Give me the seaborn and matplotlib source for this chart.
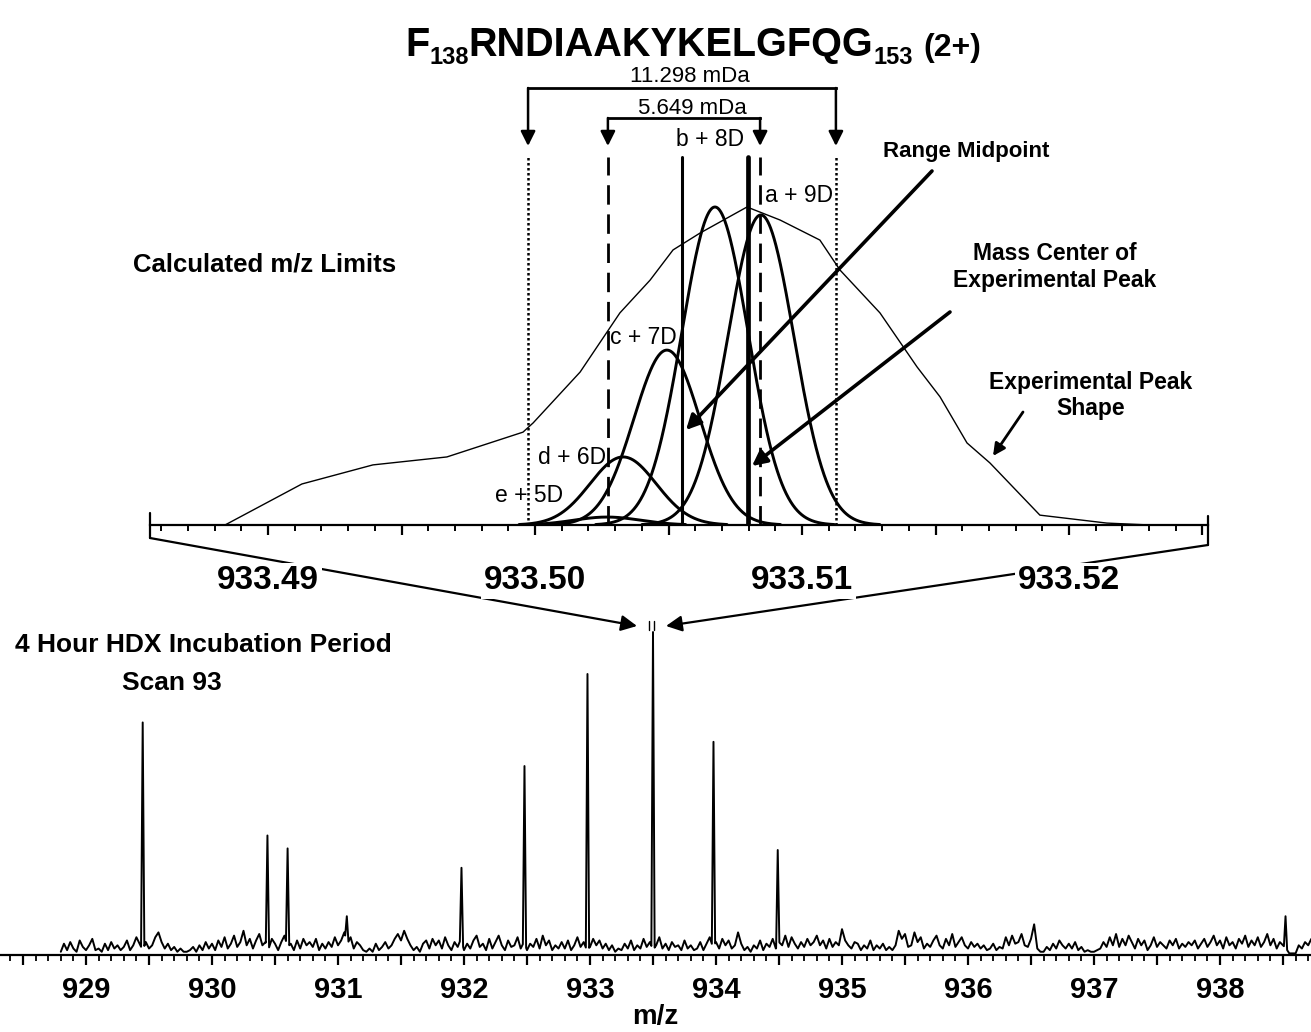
import numpy as np
import pandas as pd
import matplotlib
matplotlib.use("Agg")
import matplotlib.pyplot as plt
import seaborn as sns
from matplotlib.ticker import MultipleLocator, FuncFormatter

# ---------------- data ----------------
# top panel: experimental peak shape (m/z, relative intensity)
exp_mz = [933.48839, 933.49127, 933.49393, 933.49670, 933.49955, 933.49993, 933.50169,
          933.50318, 933.50431, 933.50517, 933.50618, 933.50794, 933.50918, 933.51067,
          933.51142, 933.51292, 933.51431, 933.51517, 933.51618, 933.51704, 933.51891,
          933.52142, 933.52303]
exp_int = [0, 12.9, 18.9, 21.4, 29.2, 32.1, 48.1, 66.7, 77.0, 86.5, 91.8, 100.0, 95.9,
           89.6, 80.2, 66.7, 49.7, 40.3, 25.8, 19.5, 3.1, 0.6, 0]

# top panel: theoretical isotopic species
iso_labels = ["a + 9D", "b + 8D", "c + 7D", "d + 6D", "e + 5D"]
iso_mz = [933.50846, 933.50674, 933.50494, 933.50330, 933.50270]
iso_int = [97.5, 100.0, 55.0, 21.4, 2.5]
iso_width = [0.00124, 0.00124, 0.00124, 0.00124, 0.00124]

# calculated m/z limits, range midpoint, mass centre
calc_outer = [933.49974, 933.51127]
calc_inner = [933.50273, 933.50843]
mass_center = 933.50798
diff_labels = ["11.298 mDa", "5.649 mDa"]
top_ticks = [933.49, 933.50, 933.51, 933.52]

# bottom panel: full scan (scan 93)
peak_mz = [929.45, 930.44, 930.60, 931.07, 931.98, 932.48, 932.98, 933.50, 933.98, 934.49, 938.52]
peak_int = [72.0, 37.0, 33.0, 12.0, 27.0, 58.5, 87.0, 100.0, 66.0, 32.5, 12.0]
noise_start, noise_step = 928.80, 0.025
noise_int = [
    1.0, 3.5, 1.5, 4.0, 2.0, 1.0, 4.5, 2.5, 1.5, 3.0, 5.0, 1.5, 2.0, 1.0, 3.5, 1.5, 4.0, 2.0, 3.0, 1.5,
    2.5, 4.5, 1.5, 3.0, 5.5, 3.5, 1.5, 4.0, 2.0, 3.0, 5.5, 7.0, 4.0, 2.0, 3.5, 1.5, 2.5, 1.0, 2.0, 1.0,
    1.0, 1.5, 2.5, 1.0, 3.0, 1.5, 4.0, 2.0, 3.5, 1.5, 4.5, 2.5, 5.5, 2.0, 3.5, 6.0, 2.5, 4.0, 7.5, 3.0,
    5.0, 2.0, 4.5, 6.5, 3.0, 4.0, 2.0, 5.0, 3.5, 1.5, 4.0, 6.0, 2.5, 3.5, 1.5, 4.5, 2.0, 5.0, 3.0, 4.0,
    2.5, 5.0, 1.5, 3.5, 2.0, 4.0, 2.5, 5.5, 3.0, 4.5, 7.0, 3.5, 5.5, 2.0, 4.0, 3.0, 1.5, 1.0, 2.0, 1.0,
    3.5, 1.5, 2.5, 4.0, 2.0, 3.0, 5.0, 6.5, 4.5, 7.5, 5.0, 3.0, 1.5, 2.5, 1.0, 3.5, 4.5, 2.0, 5.0, 3.0,
    4.5, 2.0, 5.5, 3.0, 1.5, 4.0, 2.5, 5.0, 1.5, 3.5, 2.0, 4.5, 6.0, 2.5, 3.5, 1.5, 5.0, 2.0, 4.0, 6.0,
    3.0, 1.5, 4.5, 2.5, 3.0, 5.5, 2.0, 4.0, 1.5, 3.5, 2.5, 5.0, 2.0, 6.0, 3.0, 4.5, 1.5, 3.0, 2.0, 4.0,
    2.0, 4.5, 1.5, 3.0, 5.5, 2.5, 4.0, 1.5, 2.5, 5.0, 3.0, 4.5, 2.0, 3.5, 1.5, 3.0, 1.0, 2.0, 1.5, 3.5,
    2.0, 4.5, 1.5, 3.0, 2.0, 5.0, 2.5, 4.0, 1.5, 3.0, 5.5, 2.0, 3.5, 1.5, 4.0, 2.5, 3.0, 1.5, 4.5, 2.0,
    3.0, 1.5, 2.0, 4.0, 1.5, 3.5, 5.5, 2.5, 4.0, 2.0, 5.0, 3.0, 4.5, 2.0, 3.0, 7.0, 3.5, 1.5, 2.5, 1.0,
    3.0, 2.0, 4.5, 1.5, 3.5, 2.5, 5.0, 2.0, 4.0, 3.0, 6.0, 2.5, 5.5, 3.5, 2.0, 4.0, 2.5, 5.0, 3.0, 4.0,
    6.0, 3.0, 4.5, 2.0, 5.0, 2.5, 4.0, 3.0, 8.0, 4.5, 3.0, 2.0, 4.0, 3.5, 1.5, 3.0, 2.0, 4.5, 1.5, 3.0,
    2.0, 3.5, 1.5, 2.5, 1.5, 3.0, 7.5, 5.0, 6.5, 2.5, 3.0, 7.0, 4.0, 5.5, 2.0, 3.5, 2.5, 4.5, 6.0, 3.0,
    2.0, 5.0, 3.0, 6.5, 2.5, 4.0, 5.5, 3.0, 2.0, 4.0, 2.5, 3.5, 2.0, 3.0, 1.5, 2.0, 3.5, 1.5, 2.5, 2.0,
    5.5, 3.0, 6.0, 3.5, 4.0, 6.5, 3.0, 2.5, 5.0, 9.5, 2.0, 1.0, 1.0, 2.5, 1.5, 3.5, 2.0, 4.5, 3.0, 2.0,
    3.5, 2.0, 4.0, 1.5, 2.5, 1.0, 1.5, 1.0, 1.0, 1.5, 2.0, 4.0, 2.5, 5.5, 3.0, 6.5, 2.5, 5.0, 3.0, 6.0,
    4.0, 2.0, 5.0, 3.0, 4.5, 1.5, 3.0, 5.5, 2.5, 4.0, 3.0, 2.0, 4.5, 3.0, 5.0, 2.0, 3.5, 2.5, 4.0, 3.0,
    4.5, 2.0, 3.5, 5.0, 2.5, 4.0, 6.0, 3.0, 4.5, 2.0, 5.5, 3.0, 4.0, 2.0, 5.0, 3.5, 6.0, 2.5, 4.5, 3.0,
    5.5, 2.5, 4.0, 6.5, 3.0, 5.0, 2.0, 4.0, 3.0, 2.0, 0.5, 0.5, 0.5, 3.0, 2.0, 4.0, 3.0, 5.0,
]
bottom_ticks = [929, 930, 931, 932, 933, 934, 935, 936, 937, 938]

# ---------------- style ----------------
sns.set_theme(style="white")
plt.rcParams["font.family"] = ["Liberation Sans", "DejaVu Sans"]
plt.rcParams["font.weight"] = "bold"
for k in ["text.color", "axes.edgecolor", "xtick.color", "axes.labelcolor"]:
    plt.rcParams[k] = "black"

W, H = 1311, 1032
fig = plt.figure(figsize=(W / 100, H / 100), dpi=100)
fig.patch.set_facecolor("white")

ov = fig.add_axes([0, 0, 1, 1], zorder=0)
ov.set_xlim(0, W)
ov.set_ylim(H, 0)
ov.axis("off")


def fax(l, t, r, b):
    return [l / W, 1 - b / H, (r - l) / W, (b - t) / H]


axT = fig.add_axes(fax(150, 60, 1208, 525), zorder=2)
axB = fig.add_axes(fax(0, 600, 1311, 955), zorder=2)
for a in (axT, axB):
    a.patch.set_alpha(0)
    for s in ["top", "right", "left"]:
        a.spines[s].set_visible(False)
    a.spines["bottom"].set_linewidth(1.6)
    a.spines["bottom"].set_color("black")
    a.set_yticks([])

TOPY = 3.18  # pixels per intensity unit (top panel)
BOTY = 3.23  # pixels per intensity unit (bottom panel)


def ypt(py):
    return (525 - py) / TOPY


axT.set_xlim(933.49 + (150 - 268) / 26700, 933.49 + (1208 - 268) / 26700)
axT.set_ylim(0, ypt(60))
axB.set_xlim(933.5 - 653 / 126, 933.5 + (W - 653) / 126)
axB.set_ylim(0, (955 - 600) / BOTY)

# ---- top panel ----
sns.lineplot(x=exp_mz, y=exp_int, ax=axT, color="black", lw=1.0,
             estimator=None, sort=False, legend=False)
grid = np.linspace(933.495, 933.520, 1500)
for c, h, s in zip(iso_mz, iso_int, iso_width):
    yv = h * np.exp(-0.5 * ((grid - c) / s) ** 2)
    m = yv > 0.15
    sns.lineplot(x=grid[m], y=yv[m], ax=axT, color="black", lw=2.1,
                 estimator=None, sort=False, legend=False)

frac = (525 - 157) / (525 - 60)
for xv in calc_outer:
    axT.axvline(xv, ymin=0, ymax=frac, color="black", lw=1.8, ls=(0, (1, 1)))
for xv in calc_inner:
    axT.axvline(xv, ymin=0, ymax=frac, color="black", lw=2.0, ls=(0, (7, 3.5)))
axT.axvline(np.mean(calc_outer), ymin=0, ymax=frac, color="black", lw=2.2)
axT.axvline(mass_center, ymin=0, ymax=frac, color="black", lw=3.4)

# brackets
aprops = dict(arrowstyle="-|>", color="black", lw=1.8, mutation_scale=22,
              shrinkA=0, shrinkB=0)
for lims, ybar in [(calc_outer, 88), (calc_inner, 118)]:
    axT.plot(lims, [ypt(ybar), ypt(ybar)], color="black", lw=2.0, solid_capstyle="projecting")
    for xv in lims:
        axT.annotate("", xy=(xv, ypt(146)), xytext=(xv, ypt(ybar)), arrowprops=aprops)

axT.text(np.mean(calc_outer) + 8 / 26700, ypt(77), diff_labels[0], ha="center", va="center",
         fontsize=16, fontweight="normal")
axT.text(np.mean(calc_inner) + 8 / 26700, ypt(108), diff_labels[1], ha="center", va="center",
         fontsize=16, fontweight="normal")

iso_text_pos = {"a + 9D": (765, 196, "left"), "b + 8D": (710, 140, "center"),
                "c + 7D": (610, 338, "left"), "d + 6D": (538, 457, "left"),
                "e + 5D": (495, 495, "left")}
for lab in iso_labels:
    px, py, ha = iso_text_pos[lab]
    ov.text(px, py, lab, ha=ha, va="center", fontsize=16.5, fontweight="normal")

axT.xaxis.set_major_locator(MultipleLocator(0.005))
axT.xaxis.set_minor_locator(MultipleLocator(0.001))
axT.xaxis.set_major_formatter(FuncFormatter(
    lambda v, p: f"{v:.2f}" if any(abs(v - t) < 1e-6 for t in top_ticks) else ""))
axT.tick_params(axis="x", which="major", direction="out", length=7, width=1.6,
                labelsize=24, pad=22, bottom=True)
axT.tick_params(axis="x", which="minor", direction="out", length=4, width=1.4, bottom=True)
axT.set_xlabel("")

# ---- bottom panel ----
noise_mz = noise_start + noise_step * np.arange(len(noise_int))
keep = np.ones(len(noise_mz), bool)
for c in peak_mz:
    keep &= np.abs(noise_mz - c) > 0.013
px_list = list(noise_mz[keep])
py_list = list(np.array(noise_int)[keep])
for c, h in zip(peak_mz, peak_int):
    for dx in (-0.013, 0.013):
        px_list.append(c + dx)
        py_list.append(float(np.interp(c + dx, noise_mz, noise_int)))
    px_list.append(c)
    py_list.append(h)
spec = pd.DataFrame({"mz": px_list, "intensity": py_list}).sort_values("mz")
sns.lineplot(data=spec, x="mz", y="intensity", ax=axB, color="black", lw=1.4,
             estimator=None, sort=False, legend=False)

axB.xaxis.set_major_locator(MultipleLocator(0.5))
axB.xaxis.set_minor_locator(MultipleLocator(0.1))
axB.xaxis.set_major_formatter(FuncFormatter(
    lambda v, p: f"{v:.0f}" if any(abs(v - t) < 1e-6 for t in bottom_ticks) else ""))
axB.tick_params(axis="x", which="major", direction="out", length=7, width=1.6,
                labelsize=21, pad=8, bottom=True)
axB.tick_params(axis="x", which="minor", direction="out", length=4, width=1.3, bottom=True)
axB.set_xlabel("m/z", fontsize=20, fontweight="bold", labelpad=0)
axB.set_ylabel("")

# ---- overlay: connectors, arrows, text ----
lk = dict(color="black", lw=1.6)
ov.plot([150, 150], [513, 538], **lk)
ov.plot([1208, 1208], [516, 545], **lk)
ov.annotate("", xy=(637, 626), xytext=(150, 538),
            arrowprops=dict(arrowstyle="-|>", color="black", lw=1.6, mutation_scale=24,
                            shrinkA=0, shrinkB=0))
ov.annotate("", xy=(666, 626), xytext=(1208, 545),
            arrowprops=dict(arrowstyle="-|>", color="black", lw=1.6, mutation_scale=24,
                            shrinkA=0, shrinkB=0))
ov.plot([649, 649], [621, 630], color="black", lw=1.0)
ov.plot([654, 654], [621, 630], color="black", lw=1.0)

ar = dict(arrowstyle="-|>", color="black", lw=2.6, mutation_scale=22, shrinkA=0, shrinkB=0)
ov.annotate("", xy=(686, 430), xytext=(932, 171), arrowprops=ar)
ov.annotate("", xy=(752, 466), xytext=(950, 312), arrowprops=ar)
ov.annotate("", xy=(993, 456), xytext=(1023, 412),
            arrowprops=dict(arrowstyle="-|>", color="black", lw=2.0, mutation_scale=18,
                            shrinkA=0, shrinkB=0))

ov.text(966, 152, "Range Midpoint", ha="center", va="center", fontsize=16)
ov.text(1055, 253, "Mass Center of", ha="center", va="center", fontsize=16.5)
ov.text(1055, 281, "Experimental Peak", ha="center", va="center", fontsize=16.5)
ov.text(1091, 382, "Experimental Peak", ha="center", va="center", fontsize=16.5)
ov.text(1091, 409, "Shape", ha="center", va="center", fontsize=16.5)
ov.text(265, 264, "Calculated m/z Limits", ha="center", va="center", fontsize=18.5)
ov.text(203, 645, "4 Hour HDX Incubation Period", ha="center", va="center", fontsize=19)
ov.text(172, 683, "Scan 93", ha="center", va="center", fontsize=19)

fig.canvas.draw()
r = fig.canvas.get_renderer()
for t in axT.get_xticklabels():
    t.set_bbox(dict(facecolor="white", edgecolor="none", pad=2))

# title built from pieces (subscripts)
pieces = [("F", 28.5, 0), ("138", 17, 8), ("RNDIAAKYKELGFQG", 28.5, 0), ("153", 17, 8), ("(2+)", 23, 0)]
x = 405
base = 56
for txt, size, dy in pieces:
    if txt.startswith("("):
        x += 10
    t = ov.text(x, base + dy, txt, fontsize=size, fontweight="bold", ha="left", va="baseline")
    x += t.get_window_extent(r).width

fig.savefig("out.png", dpi=100, facecolor="white")
